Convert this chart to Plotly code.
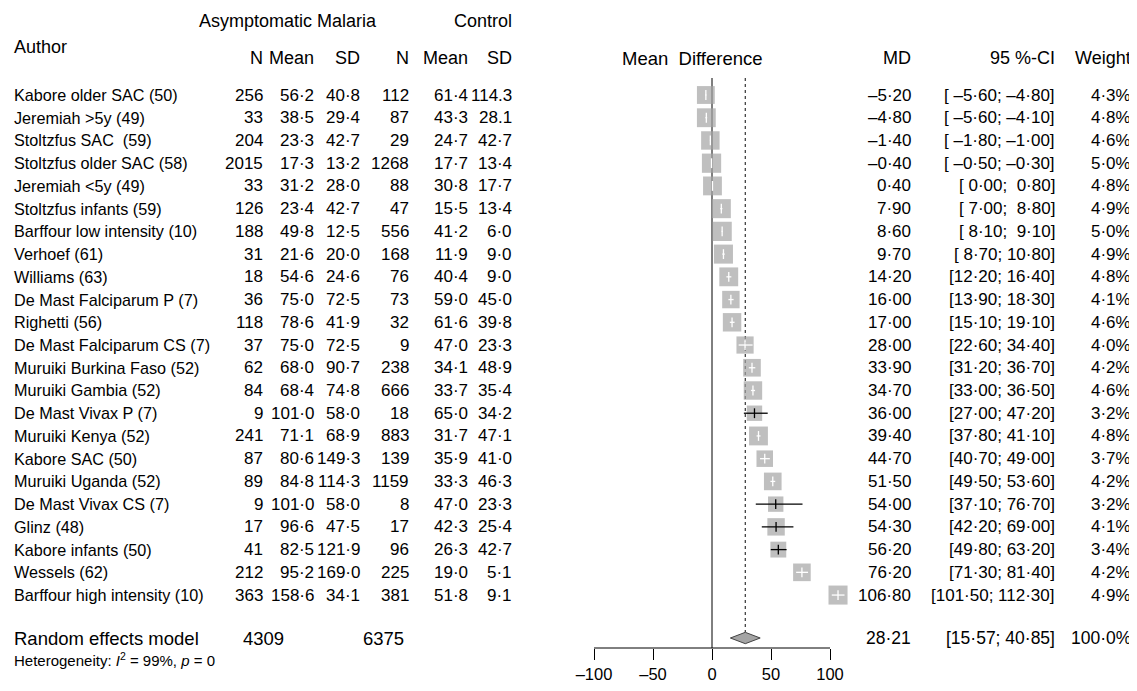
import plotly.graph_objects as go
import math

# ---------------- data ----------------
authors = [
    "Kabore older SAC (50)", "Jeremiah >5y (49)", "Stoltzfus SAC  (59)", "Stoltzfus older SAC (58)",
    "Jeremiah <5y (49)", "Stoltzfus infants (59)", "Barffour low intensity (10)", "Verhoef (61)",
    "Williams (63)", "De Mast Falciparum P (7)", "Righetti (56)", "De Mast Falciparum CS (7)",
    "Muruiki Burkina Faso (52)", "Muruiki Gambia (52)", "De Mast Vivax P (7)", "Muruiki Kenya (52)",
    "Kabore SAC (50)", "Muruiki Uganda (52)", "De Mast Vivax CS (7)", "Glinz (48)",
    "Kabore infants (50)", "Wessels (62)", "Barffour high intensity (10)",
]
n_e = [256, 33, 204, 2015, 33, 126, 188, 31, 18, 36, 118, 37, 62, 84, 9, 241, 87, 89, 9, 17, 41, 212, 363]
mean_e = [56.2, 38.5, 23.3, 17.3, 31.2, 23.4, 49.8, 21.6, 54.6, 75.0, 78.6, 75.0, 68.0, 68.4, 101.0, 71.1,
          80.6, 84.8, 101.0, 96.6, 82.5, 95.2, 158.6]
sd_e = [40.8, 29.4, 42.7, 13.2, 28.0, 42.7, 12.5, 20.0, 24.6, 72.5, 41.9, 72.5, 90.7, 74.8, 58.0, 68.9,
        149.3, 114.3, 58.0, 47.5, 121.9, 169.0, 34.1]
n_c = [112, 87, 29, 1268, 88, 47, 556, 168, 76, 73, 32, 9, 238, 666, 18, 883, 139, 1159, 8, 17, 96, 225, 381]
mean_c = [61.4, 43.3, 24.7, 17.7, 30.8, 15.5, 41.2, 11.9, 40.4, 59.0, 61.6, 47.0, 34.1, 33.7, 65.0, 31.7,
          35.9, 33.3, 47.0, 42.3, 26.3, 19.0, 51.8]
sd_c = [114.3, 28.1, 42.7, 13.4, 17.7, 13.4, 6.0, 9.0, 9.0, 45.0, 39.8, 23.3, 48.9, 35.4, 34.2, 47.1,
        41.0, 46.3, 23.3, 25.4, 42.7, 5.1, 9.1]
md = [-5.20, -4.80, -1.40, -0.40, 0.40, 7.90, 8.60, 9.70, 14.20, 16.00, 17.00, 28.00, 33.90, 34.70, 36.00,
      39.40, 44.70, 51.50, 54.00, 54.30, 56.20, 76.20, 106.80]
ci_lo = [-5.60, -5.60, -1.80, -0.50, 0.00, 7.00, 8.10, 8.70, 12.20, 13.90, 15.10, 22.60, 31.20, 33.00, 27.00,
         37.80, 40.70, 49.50, 37.10, 42.20, 49.80, 71.30, 101.50]
ci_hi = [-4.80, -4.10, -1.00, -0.30, 0.80, 8.80, 9.10, 10.80, 16.40, 18.30, 19.10, 34.40, 36.70, 36.50, 47.20,
         41.10, 49.00, 53.60, 76.70, 69.00, 63.20, 81.40, 112.30]
weight = [4.3, 4.8, 4.6, 5.0, 4.8, 4.9, 5.0, 4.9, 4.8, 4.1, 4.6, 4.0, 4.2, 4.6, 3.2, 4.8, 3.7, 4.2, 3.2, 4.1,
          3.4, 4.2, 4.9]

total_e = 4309
total_c = 6375
pooled_md = 28.21
pooled_lo = 15.57
pooled_hi = 40.85
pooled_weight = 100.0
heterogeneity_i2 = 99
heterogeneity_p = 0

axis_ticks = [-100, -50, 0, 50, 100]

# ---------------- geometry (page pixels) ----------------
OFF = 8                      # default body margin of the html page
FW, FH = 1137 - OFF, 691 - OFF
X0_PX, PX_PER_UNIT = 712.0, 1.18
ROW0_PX, ROW_STEP = 95.0, 22.73

FONT = "Liberation Sans, Arial, Helvetica, sans-serif"
GREY = "#A4A4A4"
LAB_FS = 16.2
ROW_FS = 17
HEAD_FS = 18
SUM_FS = 18.5


def ydat(px):
    return (px - ROW0_PX) / ROW_STEP


def xpap(px):
    return (px - OFF) / FW


def fmt(v, d=1):
    s = f"{abs(v):.{d}f}".replace(".", "\u00b7")
    return ("\u2013" + s) if v < 0 else s


def pad(s, n):
    return "\u00a0" * max(0, n - len(s)) + s


x_min = (OFF - X0_PX) / PX_PER_UNIT
x_max = (OFF + FW - X0_PX) / PX_PER_UNIT
y_top = ydat(OFF)
y_bot = ydat(OFF + FH)

AXIS_PX = 648
n_rows = len(authors)
rows = list(range(n_rows))
summary_y = ydat(638)
axis_y = ydat(AXIS_PX)
line_top = ydat(78)

fig = go.Figure()

# zero line
fig.add_trace(go.Scatter(x=[0, 0], y=[line_top, axis_y], mode="lines",
                         line=dict(color="black", width=1), hoverinfo="skip", showlegend=False))
# pooled dotted line
fig.add_trace(go.Scatter(x=[pooled_md, pooled_md], y=[line_top, summary_y - 0.26], mode="lines",
                         line=dict(color="#333333", width=1.2, dash="dot"), hoverinfo="skip", showlegend=False))

# squares
sizes = [8.6 * math.sqrt(w) for w in weight]
fig.add_trace(go.Scatter(x=md, y=rows, mode="markers",
                         marker=dict(symbol="square", size=sizes, color=GREY, line=dict(width=0)),
                         hoverinfo="skip", showlegend=False))

# CI lines: white if inside the box, black otherwise
wx, wy, bx, by = [], [], [], []
wtx, wty, btx, bty = [], [], [], []
for i in rows:
    inside = (ci_hi[i] - ci_lo[i]) * PX_PER_UNIT < 0.95 * sizes[i]
    if inside:
        wx += [ci_lo[i], ci_hi[i], None]; wy += [i, i, None]
        wtx.append(md[i]); wty.append(i)
    else:
        bx += [ci_lo[i], ci_hi[i], None]; by += [i, i, None]
        btx.append(md[i]); bty.append(i)
fig.add_trace(go.Scatter(x=wx, y=wy, mode="lines", line=dict(color="white", width=1.3),
                         hoverinfo="skip", showlegend=False))
fig.add_trace(go.Scatter(x=bx, y=by, mode="lines", line=dict(color="black", width=1.3),
                         hoverinfo="skip", showlegend=False))
fig.add_trace(go.Scatter(x=wtx, y=wty, mode="markers",
                         marker=dict(symbol="line-ns", size=7, line=dict(color="white", width=1.3)),
                         hoverinfo="skip", showlegend=False))
fig.add_trace(go.Scatter(x=btx, y=bty, mode="markers",
                         marker=dict(symbol="line-ns", size=7, line=dict(color="black", width=1.3)),
                         hoverinfo="skip", showlegend=False))

# diamond
dh = 0.25
fig.add_trace(go.Scatter(x=[pooled_lo, pooled_md, pooled_hi, pooled_md, pooled_lo],
                         y=[summary_y, summary_y - dh, summary_y, summary_y + dh, summary_y],
                         mode="lines", fill="toself", fillcolor=GREY,
                         line=dict(color="#444444", width=1), hoverinfo="skip", showlegend=False))

# axis line
fig.add_trace(go.Scatter(x=[axis_ticks[0], axis_ticks[-1]], y=[axis_y, axis_y], mode="lines",
                         line=dict(color="black", width=1), hoverinfo="skip", showlegend=False))

# ---------------- text ----------------
ann = []


def txt(px, y, s, anchor="right", size=ROW_FS):
    ann.append(dict(x=xpap(px), y=y, xref="paper", yref="y", text=s, showarrow=False,
                    xanchor=anchor, yanchor="middle", font=dict(size=size, color="black", family=FONT)))


def ci_text(lo, hi):
    lo_s, hi_s = fmt(lo, 2), fmt(hi, 2)
    lo_s = pad(lo_s, 5)
    if lo < 0:
        lo_s = "\u00a0" + lo_s
    return "[" + lo_s + ";\u00a0" + pad(hi_s, 5) + "]"


COL = dict(n_e=265, mean_e=316, sd_e=362, n_c=411, mean_c=470, sd_c=514, md=913, ci=1057, w=1133)

# headers
hy1, hy2, hy_auth = ydat(21), ydat(58), ydat(47)
txt(288, hy1, "Asymptomatic Malaria", "center", HEAD_FS)
txt(COL["sd_c"], hy1, "Control", "right", HEAD_FS)
txt(12, hy_auth, "Author", "left", HEAD_FS)
for key, lab in [("n_e", "N"), ("mean_e", "Mean"), ("sd_e", "SD"), ("n_c", "N"), ("mean_c", "Mean"), ("sd_c", "SD")]:
    txt(COL[key], hy2, lab, "right", HEAD_FS)
txt(692, hy2, "Mean\u00a0\u00a0Difference", "center", 18.5)
txt(COL["md"], hy2, "MD", "right", HEAD_FS)
txt(COL["ci"], hy2, "95 %-CI", "right", HEAD_FS)
txt(COL["w"], hy2, "Weight", "right", HEAD_FS)

for i in rows:
    txt(12, i, authors[i].replace("  ", "\u00a0\u00a0"), "left", LAB_FS)
    txt(COL["n_e"], i, str(n_e[i]))
    txt(COL["mean_e"], i, fmt(mean_e[i]))
    txt(COL["sd_e"], i, fmt(sd_e[i]))
    txt(COL["n_c"], i, str(n_c[i]))
    txt(COL["mean_c"], i, fmt(mean_c[i]))
    sdc = fmt(sd_c[i]) if i > 1 else f"{sd_c[i]:.1f}"
    txt(COL["sd_c"], i, sdc)
    txt(COL["md"], i, fmt(md[i], 2))
    txt(COL["ci"], i, ci_text(ci_lo[i], ci_hi[i]))
    txt(COL["w"], i, fmt(weight[i]) + "%")

# summary
txt(12, summary_y, "Random effects model", "left", SUM_FS)
txt(286, summary_y, str(total_e), "right", SUM_FS)
txt(406, summary_y, str(total_c), "right", SUM_FS)
txt(COL["md"], summary_y, fmt(pooled_md, 2), "right", ROW_FS + 0.5)
txt(COL["ci"], summary_y, "[" + fmt(pooled_lo, 2) + ";\u00a0" + fmt(pooled_hi, 2) + "]", "right", ROW_FS + 0.5)
txt(COL["w"], summary_y, fmt(pooled_weight) + "%", "right", ROW_FS + 0.5)
txt(12, ydat(659), f"Heterogeneity: <i>I</i><sup>2</sup> = {heterogeneity_i2}%, <i>p</i> = {heterogeneity_p}",
    "left", 15)

fig.update_layout(
    width=FW, height=FH,
    margin=dict(l=0, r=0, t=0, b=0, pad=0),
    paper_bgcolor="white", plot_bgcolor="white",
    showlegend=False,
    annotations=ann,
    xaxis=dict(range=[x_min, x_max], domain=[0, 1], anchor="free", position=1 - (AXIS_PX - OFF) / FH,
               tickvals=axis_ticks, ticktext=[fmt(t, 0) for t in axis_ticks],
               ticks="outside", ticklen=11, tickwidth=1, tickcolor="black",
               showline=False, showgrid=False, zeroline=False, automargin=False, fixedrange=True,
               tickfont=dict(size=16.5, color="black", family=FONT)),
    yaxis=dict(range=[y_bot, y_top], domain=[0, 1], visible=False, showgrid=False, zeroline=False,
               automargin=False, fixedrange=True),
)

fig.write_html("out.html", config=dict(displayModeBar=False))
